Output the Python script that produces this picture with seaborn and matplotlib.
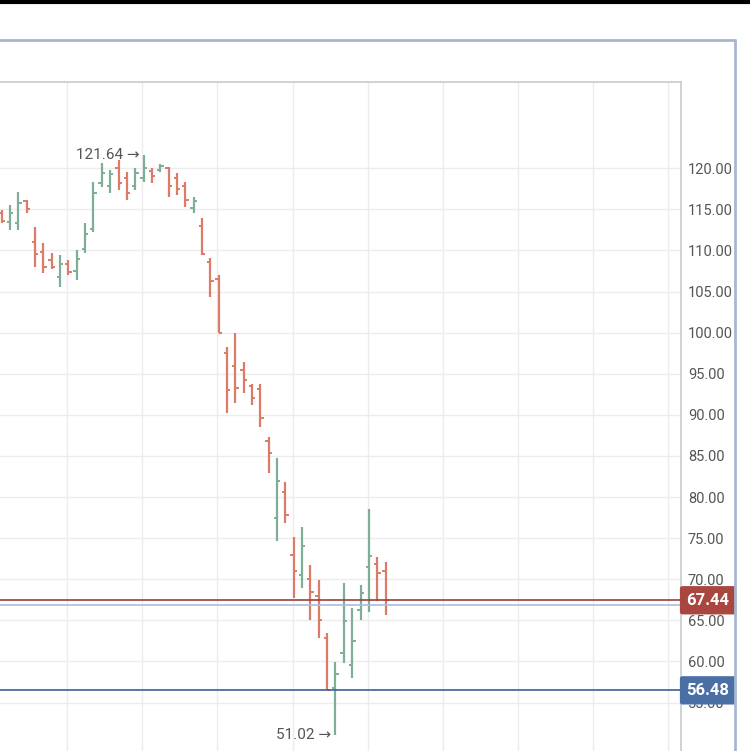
import numpy as np
import pandas as pd
import seaborn as sns
import matplotlib.pyplot as plt
from matplotlib.lines import Line2D

sns.set_theme(style="white")
plt.rcParams['font.family'] = ['Roboto', 'DejaVu Sans']

# OHLC values
opens = [114.6, 113.5, 113.3, 116.0, 111.0, 109.8, 108.9, 106.8, 108.4, 107.5,
         110.2, 112.6, 118.2, 117.8, 120.0, 118.8, 117.8, 118.8, 119.7, 119.8,
         120.0, 118.8, 117.8, 115.2, 113.0, 108.6, 106.5, 97.5, 96.0, 95.5,
         93.5, 93.2, 86.8, 77.4, 80.6, 73.0, 70.5, 70.0, 67.9, 62.8,
         56.8, 61.0, 59.6, 66.2, 71.5, 71.8, 71.0]
highs = [114.9, 115.5, 117.1, 116.1, 112.8, 110.9, 109.7, 109.4, 108.8, 110.0,
         113.3, 118.3, 120.6, 119.8, 121.0, 119.5, 120.0, 121.64, 120.0, 120.5,
         120.1, 119.4, 118.3, 116.5, 113.9, 109.1, 107.0, 98.2, 99.9, 96.4,
         93.8, 93.8, 87.3, 84.8, 81.8, 75.1, 76.3, 71.7, 69.9, 63.4,
         59.9, 69.5, 66.5, 69.3, 78.6, 72.7, 72.1]
lows = [113.4, 112.5, 112.5, 114.6, 108.0, 107.2, 107.8, 105.5, 107.0, 106.4,
        109.7, 112.2, 117.7, 117.0, 117.3, 116.1, 117.3, 118.3, 118.2, 119.5,
        116.5, 116.7, 115.3, 114.5, 109.4, 104.3, 100.0, 90.2, 91.4, 92.6,
        91.2, 88.5, 82.9, 74.7, 76.8, 67.7, 68.9, 65.0, 62.8, 56.5,
        51.02, 59.8, 58.0, 65.0, 66.0, 67.4, 65.6]
closes = [113.6, 114.6, 115.8, 115.1, 109.6, 108.0, 108.0, 108.4, 107.4, 109.0,
          112.0, 117.0, 119.4, 119.3, 118.2, 117.0, 119.4, 120.0, 119.1, 120.3,
          117.8, 117.5, 116.2, 116.0, 109.6, 106.3, 100.0, 93.0, 93.3, 94.2,
          92.0, 89.6, 85.4, 82.0, 77.8, 71.0, 74.0, 68.4, 65.0, 56.5,
          58.5, 64.9, 62.5, 68.3, 72.8, 70.8, 67.44]
last_price = 67.44
prev_line = 66.9
low_line = 56.48

df = pd.DataFrame({'open': opens, 'high': highs, 'low': lows, 'close': closes})
df['i'] = np.arange(len(df))
up_col, down_col = '#7fae96', '#dc7b66'
df['col'] = np.where(df['close'] >= df['open'], up_col, down_col)

fig = plt.figure(figsize=(7.5, 7.51), dpi=100)
ax = fig.add_axes([0, 0, 681 / 750, 1 - 82 / 751])

ax.vlines(df['i'], df['low'], df['high'], colors=df['col'], lw=1.6)
ax.hlines(df['open'], df['i'] - 0.4, df['i'], colors=df['col'], lw=1.4)
ax.hlines(df['close'], df['i'], df['i'] + 0.4, colors=df['col'], lw=1.4)

ax.set_xlim(-0.2, 81.4)
ax.set_ylim(49.1, 130.5)
ax.set_xticks(7.85 + 9 * np.arange(9))
ax.set_yticks(np.arange(55, 125, 5))
ax.grid(True, color='#ececec', lw=1)
ax.tick_params(axis='x', labelbottom=False, length=0)
ax.yaxis.tick_right()
ax.tick_params(axis='y', length=0, labelsize=10.5, labelcolor='#555555', pad=5)
ax.set_yticklabels([f'{v:.2f}' for v in np.arange(55, 125, 5)])
for s in ['left', 'bottom']:
    ax.spines[s].set_visible(False)
for s in ['top', 'right']:
    ax.spines[s].set_color('#c8ccd0')

ax.axhline(prev_line, color='#a9bfdc', lw=1.2)
ax.axhline(last_price, color='#9b3f3a', lw=1.2)
ax.axhline(low_line, color='#3f5f95', lw=1.2)

for val, col in [(last_price, '#a8463f'), (low_line, '#4a6fa5')]:
    ax.annotate(f'{val:.2f}', xy=(1, val), xycoords=('axes fraction', 'data'),
                xytext=(4, 0), textcoords='offset points', va='center', ha='left',
                color='white', fontsize=12, fontweight='bold',
                bbox=dict(boxstyle='round,pad=0.4,rounding_size=0.15', fc=col, ec='none'))

imax = int(df['high'].idxmax())
imin = int(df['low'].idxmin())
ax.annotate(f'{highs[imax]:.2f} →', xy=(imax, highs[imax]), xytext=(-3, 0),
            textcoords='offset points', ha='right', va='center', fontsize=11, color='#555555')
ax.annotate(f'{lows[imin]:.2f} →', xy=(imin, lows[imin]), xytext=(-3, 0),
            textcoords='offset points', ha='right', va='center', fontsize=11, color='#555555')

# surrounding frame of the screenshot
fig.add_artist(Line2D([0, 1], [1 - 1.5 / 751] * 2, color='black', lw=3))
fig.add_artist(Line2D([0, 735 / 750], [1 - 40 / 751] * 2, color='#a6b8d0', lw=2))
fig.add_artist(Line2D([735 / 750] * 2, [0, 1 - 40 / 751], color='#a6b8d0', lw=2))

fig.savefig('out.png', dpi=100)
